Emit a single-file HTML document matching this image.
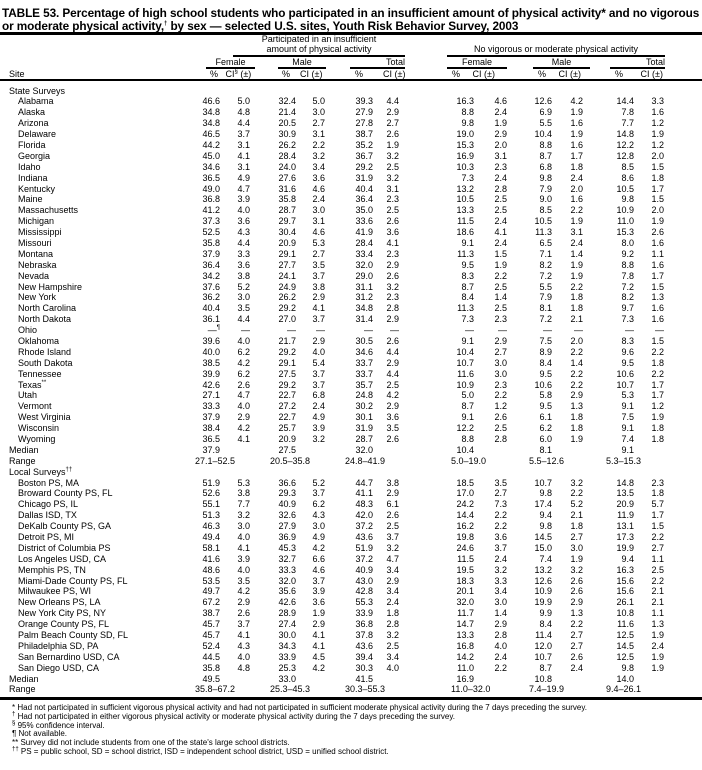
<!DOCTYPE html>
<html><head><meta charset="utf-8"><style>
body{margin:0;background:#fff;width:702px;height:770px;position:relative;overflow:hidden;font-family:"Liberation Sans",Arial,sans-serif;color:#000}
.t{position:absolute;left:2px;font-weight:bold;font-size:11.8px;white-space:nowrap;letter-spacing:-0.1px}
.ln{position:absolute;background:#000}
.hd{position:absolute;font-size:9px;white-space:nowrap;line-height:10px}
#rows{position:absolute;top:85.5px;left:0;width:702px}
.r{position:relative;height:10.9px;line-height:10.9px;font-size:9px;white-space:nowrap}
.r span{position:absolute;top:0}
.r span:nth-child(1){left:18px}
.r.h span:nth-child(1){left:9px}
.r span:nth-child(2){right:482px}.r span:nth-child(3){right:452px}
.r span:nth-child(4){right:406px}.r span:nth-child(5){right:377px}
.r span:nth-child(6){right:329px}.r span:nth-child(7){right:303px}
.r span:nth-child(8){right:228px}.r span:nth-child(9){right:195px}
.r span:nth-child(10){right:150px}.r span:nth-child(11){right:119px}
.r span:nth-child(12){right:68px}.r span:nth-child(13){right:38px}
.g span:nth-child(2){left:195px;right:auto}.g span:nth-child(3){left:270px;right:auto}
.g span:nth-child(4){left:345px;right:auto}.g span:nth-child(5){left:451px;right:auto}
.g span:nth-child(6){left:529px;right:auto}.g span:nth-child(7){left:606px;right:auto}
sup{font-size:6px;line-height:0}
.fn{position:absolute;left:12px;font-size:8px;line-height:8.8px;top:704px;white-space:nowrap}
</style></head><body>
<div class="t" style="top:6px">TABLE 53. Percentage of high school students who participated in an insufficient amount of physical activity* and no vigorous</div>
<div class="t" style="top:19px">or moderate physical activity,<sup>†</sup> by sex — selected U.S. sites, Youth Risk Behavior Survey, 2003</div>
<div class="ln" style="left:0;top:32px;width:702px;height:3px"></div>
<div class="hd" style="left:233px;width:172px;text-align:center;top:34px">Participated in an insufficient<br>amount of physical activity</div>
<div class="ln" style="left:233px;top:55px;width:172px;height:2px"></div>
<div class="hd" style="left:447px;width:218px;text-align:center;top:44px">No vigorous or moderate physical activity</div>
<div class="ln" style="left:447px;top:55px;width:218px;height:2px"></div>
<div class="hd" style="left:206px;width:49px;text-align:center;top:57px">Female</div>
<div class="hd" style="left:278px;width:48px;text-align:center;top:57px">Male</div>
<div class="hd" style="left:350px;width:55px;text-align:right;top:57px">Total</div>
<div class="hd" style="left:447px;width:60px;text-align:center;top:57px">Female</div>
<div class="hd" style="left:533px;width:57px;text-align:center;top:57px">Male</div>
<div class="hd" style="left:610px;width:55px;text-align:right;top:57px">Total</div>
<div class="ln" style="left:206px;top:67px;width:49px;height:2px"></div>
<div class="ln" style="left:278px;top:67px;width:48px;height:2px"></div>
<div class="ln" style="left:350px;top:67px;width:55px;height:2px"></div>
<div class="ln" style="left:447px;top:67px;width:60px;height:2px"></div>
<div class="ln" style="left:533px;top:67px;width:57px;height:2px"></div>
<div class="ln" style="left:610px;top:67px;width:55px;height:2px"></div>
<div class="hd" style="left:9px;top:69px">Site</div>
<div class="hd" style="left:210px;top:69px">%&nbsp;&nbsp; CI<sup>§</sup> (±)</div>
<div class="hd" style="left:282px;top:69px">%&nbsp;&nbsp;&nbsp; CI (±)</div>
<div class="hd" style="left:355px;top:69px">%&nbsp;&nbsp;&nbsp;&nbsp;&nbsp;&nbsp;&nbsp; CI (±)</div>
<div class="hd" style="left:452px;top:69px">%&nbsp;&nbsp;&nbsp;&nbsp; CI (±)</div>
<div class="hd" style="left:538px;top:69px">%&nbsp;&nbsp;&nbsp;&nbsp; CI (±)</div>
<div class="hd" style="left:615px;top:69px">%&nbsp;&nbsp;&nbsp;&nbsp;&nbsp;&nbsp; CI (±)</div>
<div class="ln" style="left:0;top:79px;width:702px;height:2px"></div>
<div id="rows">
<div class="r h"><span>State Surveys</span></div>
<div class="r"><span>Alabama</span><span>46.6</span><span>5.0</span><span>32.4</span><span>5.0</span><span>39.3</span><span>4.4</span><span>16.3</span><span>4.6</span><span>12.6</span><span>4.2</span><span>14.4</span><span>3.3</span></div>
<div class="r"><span>Alaska</span><span>34.8</span><span>4.8</span><span>21.4</span><span>3.0</span><span>27.9</span><span>2.9</span><span>8.8</span><span>2.4</span><span>6.9</span><span>1.9</span><span>7.8</span><span>1.6</span></div>
<div class="r"><span>Arizona</span><span>34.8</span><span>4.4</span><span>20.5</span><span>2.7</span><span>27.8</span><span>2.7</span><span>9.8</span><span>1.9</span><span>5.5</span><span>1.6</span><span>7.7</span><span>1.2</span></div>
<div class="r"><span>Delaware</span><span>46.5</span><span>3.7</span><span>30.9</span><span>3.1</span><span>38.7</span><span>2.6</span><span>19.0</span><span>2.9</span><span>10.4</span><span>1.9</span><span>14.8</span><span>1.9</span></div>
<div class="r"><span>Florida</span><span>44.2</span><span>3.1</span><span>26.2</span><span>2.2</span><span>35.2</span><span>1.9</span><span>15.3</span><span>2.0</span><span>8.8</span><span>1.6</span><span>12.2</span><span>1.2</span></div>
<div class="r"><span>Georgia</span><span>45.0</span><span>4.1</span><span>28.4</span><span>3.2</span><span>36.7</span><span>3.2</span><span>16.9</span><span>3.1</span><span>8.7</span><span>1.7</span><span>12.8</span><span>2.0</span></div>
<div class="r"><span>Idaho</span><span>34.6</span><span>3.1</span><span>24.0</span><span>3.4</span><span>29.2</span><span>2.5</span><span>10.3</span><span>2.3</span><span>6.8</span><span>1.8</span><span>8.5</span><span>1.5</span></div>
<div class="r"><span>Indiana</span><span>36.5</span><span>4.9</span><span>27.6</span><span>3.6</span><span>31.9</span><span>3.2</span><span>7.3</span><span>2.4</span><span>9.8</span><span>2.4</span><span>8.6</span><span>1.8</span></div>
<div class="r"><span>Kentucky</span><span>49.0</span><span>4.7</span><span>31.6</span><span>4.6</span><span>40.4</span><span>3.1</span><span>13.2</span><span>2.8</span><span>7.9</span><span>2.0</span><span>10.5</span><span>1.7</span></div>
<div class="r"><span>Maine</span><span>36.8</span><span>3.9</span><span>35.8</span><span>2.4</span><span>36.4</span><span>2.3</span><span>10.5</span><span>2.5</span><span>9.0</span><span>1.6</span><span>9.8</span><span>1.5</span></div>
<div class="r"><span>Massachusetts</span><span>41.2</span><span>4.0</span><span>28.7</span><span>3.0</span><span>35.0</span><span>2.5</span><span>13.3</span><span>2.5</span><span>8.5</span><span>2.2</span><span>10.9</span><span>2.0</span></div>
<div class="r"><span>Michigan</span><span>37.3</span><span>3.6</span><span>29.7</span><span>3.1</span><span>33.6</span><span>2.6</span><span>11.5</span><span>2.4</span><span>10.5</span><span>1.9</span><span>11.0</span><span>1.9</span></div>
<div class="r"><span>Mississippi</span><span>52.5</span><span>4.3</span><span>30.4</span><span>4.6</span><span>41.9</span><span>3.6</span><span>18.6</span><span>4.1</span><span>11.3</span><span>3.1</span><span>15.3</span><span>2.6</span></div>
<div class="r"><span>Missouri</span><span>35.8</span><span>4.4</span><span>20.9</span><span>5.3</span><span>28.4</span><span>4.1</span><span>9.1</span><span>2.4</span><span>6.5</span><span>2.4</span><span>8.0</span><span>1.6</span></div>
<div class="r"><span>Montana</span><span>37.9</span><span>3.3</span><span>29.1</span><span>2.7</span><span>33.4</span><span>2.3</span><span>11.3</span><span>1.5</span><span>7.1</span><span>1.4</span><span>9.2</span><span>1.1</span></div>
<div class="r"><span>Nebraska</span><span>36.4</span><span>3.6</span><span>27.7</span><span>3.5</span><span>32.0</span><span>2.9</span><span>9.5</span><span>1.9</span><span>8.2</span><span>1.9</span><span>8.8</span><span>1.6</span></div>
<div class="r"><span>Nevada</span><span>34.2</span><span>3.8</span><span>24.1</span><span>3.7</span><span>29.0</span><span>2.6</span><span>8.3</span><span>2.2</span><span>7.2</span><span>1.9</span><span>7.8</span><span>1.7</span></div>
<div class="r"><span>New Hampshire</span><span>37.6</span><span>5.2</span><span>24.9</span><span>3.8</span><span>31.1</span><span>3.2</span><span>8.7</span><span>2.5</span><span>5.5</span><span>2.2</span><span>7.2</span><span>1.5</span></div>
<div class="r"><span>New York</span><span>36.2</span><span>3.0</span><span>26.2</span><span>2.9</span><span>31.2</span><span>2.3</span><span>8.4</span><span>1.4</span><span>7.9</span><span>1.8</span><span>8.2</span><span>1.3</span></div>
<div class="r"><span>North Carolina</span><span>40.4</span><span>3.5</span><span>29.2</span><span>4.1</span><span>34.8</span><span>2.8</span><span>11.3</span><span>2.5</span><span>8.1</span><span>1.8</span><span>9.7</span><span>1.6</span></div>
<div class="r"><span>North Dakota</span><span>36.1</span><span>4.4</span><span>27.0</span><span>3.7</span><span>31.4</span><span>2.9</span><span>7.3</span><span>2.3</span><span>7.2</span><span>2.1</span><span>7.3</span><span>1.6</span></div>
<div class="r"><span>Ohio</span><span>—<sup>¶</sup></span><span>—</span><span>—</span><span>—</span><span>—</span><span>—</span><span>—</span><span>—</span><span>—</span><span>—</span><span>—</span><span>—</span></div>
<div class="r"><span>Oklahoma</span><span>39.6</span><span>4.0</span><span>21.7</span><span>2.9</span><span>30.5</span><span>2.6</span><span>9.1</span><span>2.9</span><span>7.5</span><span>2.0</span><span>8.3</span><span>1.5</span></div>
<div class="r"><span>Rhode Island</span><span>40.0</span><span>6.2</span><span>29.2</span><span>4.0</span><span>34.6</span><span>4.4</span><span>10.4</span><span>2.7</span><span>8.9</span><span>2.2</span><span>9.6</span><span>2.2</span></div>
<div class="r"><span>South Dakota</span><span>38.5</span><span>4.2</span><span>29.1</span><span>5.4</span><span>33.7</span><span>2.9</span><span>10.7</span><span>3.0</span><span>8.4</span><span>1.4</span><span>9.5</span><span>1.8</span></div>
<div class="r"><span>Tennessee</span><span>39.9</span><span>6.2</span><span>27.5</span><span>3.7</span><span>33.7</span><span>4.4</span><span>11.6</span><span>3.0</span><span>9.5</span><span>2.2</span><span>10.6</span><span>2.2</span></div>
<div class="r"><span>Texas<sup>**</sup></span><span>42.6</span><span>2.6</span><span>29.2</span><span>3.7</span><span>35.7</span><span>2.5</span><span>10.9</span><span>2.3</span><span>10.6</span><span>2.2</span><span>10.7</span><span>1.7</span></div>
<div class="r"><span>Utah</span><span>27.1</span><span>4.7</span><span>22.7</span><span>6.8</span><span>24.8</span><span>4.2</span><span>5.0</span><span>2.2</span><span>5.8</span><span>2.9</span><span>5.3</span><span>1.7</span></div>
<div class="r"><span>Vermont</span><span>33.3</span><span>4.0</span><span>27.2</span><span>2.4</span><span>30.2</span><span>2.9</span><span>8.7</span><span>1.2</span><span>9.5</span><span>1.3</span><span>9.1</span><span>1.2</span></div>
<div class="r"><span>West Virginia</span><span>37.9</span><span>2.9</span><span>22.7</span><span>4.9</span><span>30.1</span><span>3.6</span><span>9.1</span><span>2.6</span><span>6.1</span><span>1.8</span><span>7.5</span><span>1.9</span></div>
<div class="r"><span>Wisconsin</span><span>38.4</span><span>4.2</span><span>25.7</span><span>3.9</span><span>31.9</span><span>3.5</span><span>12.2</span><span>2.5</span><span>6.2</span><span>1.8</span><span>9.1</span><span>1.8</span></div>
<div class="r"><span>Wyoming</span><span>36.5</span><span>4.1</span><span>20.9</span><span>3.2</span><span>28.7</span><span>2.6</span><span>8.8</span><span>2.8</span><span>6.0</span><span>1.9</span><span>7.4</span><span>1.8</span></div>
<div class="r h"><span>Median</span><span>37.9</span><span></span><span>27.5</span><span></span><span>32.0</span><span></span><span>10.4</span><span></span><span>8.1</span><span></span><span>9.1</span><span></span></div>
<div class="r h g"><span>Range</span><span>27.1–52.5</span><span>20.5–35.8</span><span>24.8–41.9</span><span>5.0–19.0</span><span>5.5–12.6</span><span>5.3–15.3</span></div>
<div class="r h"><span>Local Surveys<sup>††</sup></span></div>
<div class="r"><span>Boston PS, MA</span><span>51.9</span><span>5.3</span><span>36.6</span><span>5.2</span><span>44.7</span><span>3.8</span><span>18.5</span><span>3.5</span><span>10.7</span><span>3.2</span><span>14.8</span><span>2.3</span></div>
<div class="r"><span>Broward County PS, FL</span><span>52.6</span><span>3.8</span><span>29.3</span><span>3.7</span><span>41.1</span><span>2.9</span><span>17.0</span><span>2.7</span><span>9.8</span><span>2.2</span><span>13.5</span><span>1.8</span></div>
<div class="r"><span>Chicago PS, IL</span><span>55.1</span><span>7.7</span><span>40.9</span><span>6.2</span><span>48.3</span><span>6.1</span><span>24.2</span><span>7.3</span><span>17.4</span><span>5.2</span><span>20.9</span><span>5.7</span></div>
<div class="r"><span>Dallas ISD, TX</span><span>51.3</span><span>3.2</span><span>32.6</span><span>4.3</span><span>42.0</span><span>2.6</span><span>14.4</span><span>2.2</span><span>9.4</span><span>2.1</span><span>11.9</span><span>1.7</span></div>
<div class="r"><span>DeKalb County PS, GA</span><span>46.3</span><span>3.0</span><span>27.9</span><span>3.0</span><span>37.2</span><span>2.5</span><span>16.2</span><span>2.2</span><span>9.8</span><span>1.8</span><span>13.1</span><span>1.5</span></div>
<div class="r"><span>Detroit PS, MI</span><span>49.4</span><span>4.0</span><span>36.9</span><span>4.9</span><span>43.6</span><span>3.7</span><span>19.8</span><span>3.6</span><span>14.5</span><span>2.7</span><span>17.3</span><span>2.2</span></div>
<div class="r"><span>District of Columbia PS</span><span>58.1</span><span>4.1</span><span>45.3</span><span>4.2</span><span>51.9</span><span>3.2</span><span>24.6</span><span>3.7</span><span>15.0</span><span>3.0</span><span>19.9</span><span>2.7</span></div>
<div class="r"><span>Los Angeles USD, CA</span><span>41.6</span><span>3.9</span><span>32.7</span><span>6.6</span><span>37.2</span><span>4.7</span><span>11.5</span><span>2.4</span><span>7.4</span><span>1.9</span><span>9.4</span><span>1.1</span></div>
<div class="r"><span>Memphis PS, TN</span><span>48.6</span><span>4.0</span><span>33.3</span><span>4.6</span><span>40.9</span><span>3.4</span><span>19.5</span><span>3.2</span><span>13.2</span><span>3.2</span><span>16.3</span><span>2.5</span></div>
<div class="r"><span>Miami-Dade County PS, FL</span><span>53.5</span><span>3.5</span><span>32.0</span><span>3.7</span><span>43.0</span><span>2.9</span><span>18.3</span><span>3.3</span><span>12.6</span><span>2.6</span><span>15.6</span><span>2.2</span></div>
<div class="r"><span>Milwaukee PS, WI</span><span>49.7</span><span>4.2</span><span>35.6</span><span>3.9</span><span>42.8</span><span>3.4</span><span>20.1</span><span>3.4</span><span>10.9</span><span>2.6</span><span>15.6</span><span>2.1</span></div>
<div class="r"><span>New Orleans PS, LA</span><span>67.2</span><span>2.9</span><span>42.6</span><span>3.6</span><span>55.3</span><span>2.4</span><span>32.0</span><span>3.0</span><span>19.9</span><span>2.9</span><span>26.1</span><span>2.1</span></div>
<div class="r"><span>New York City PS, NY</span><span>38.7</span><span>2.6</span><span>28.9</span><span>1.9</span><span>33.9</span><span>1.8</span><span>11.7</span><span>1.4</span><span>9.9</span><span>1.3</span><span>10.8</span><span>1.1</span></div>
<div class="r"><span>Orange County PS, FL</span><span>45.7</span><span>3.7</span><span>27.4</span><span>2.9</span><span>36.8</span><span>2.8</span><span>14.7</span><span>2.9</span><span>8.4</span><span>2.2</span><span>11.6</span><span>1.3</span></div>
<div class="r"><span>Palm Beach County SD, FL</span><span>45.7</span><span>4.1</span><span>30.0</span><span>4.1</span><span>37.8</span><span>3.2</span><span>13.3</span><span>2.8</span><span>11.4</span><span>2.7</span><span>12.5</span><span>1.9</span></div>
<div class="r"><span>Philadelphia SD, PA</span><span>52.4</span><span>4.3</span><span>34.3</span><span>4.1</span><span>43.6</span><span>2.5</span><span>16.8</span><span>4.0</span><span>12.0</span><span>2.7</span><span>14.5</span><span>2.4</span></div>
<div class="r"><span>San Bernardino USD, CA</span><span>44.5</span><span>4.0</span><span>33.9</span><span>4.5</span><span>39.4</span><span>3.4</span><span>14.2</span><span>2.4</span><span>10.7</span><span>2.6</span><span>12.5</span><span>1.9</span></div>
<div class="r"><span>San Diego USD, CA</span><span>35.8</span><span>4.8</span><span>25.3</span><span>4.2</span><span>30.3</span><span>4.0</span><span>11.0</span><span>2.2</span><span>8.7</span><span>2.4</span><span>9.8</span><span>1.9</span></div>
<div class="r h"><span>Median</span><span>49.5</span><span></span><span>33.0</span><span></span><span>41.5</span><span></span><span>16.9</span><span></span><span>10.8</span><span></span><span>14.0</span><span></span></div>
<div class="r h g"><span>Range</span><span>35.8–67.2</span><span>25.3–45.3</span><span>30.3–55.3</span><span>11.0–32.0</span><span>7.4–19.9</span><span>9.4–26.1</span></div>
</div>
<div class="ln" style="left:0;top:697px;width:702px;height:3px"></div>
<div class="fn">* Had not participated in sufficient vigorous physical activity and had not participated in sufficient moderate physical activity during the 7 days preceding the survey.<br>
<sup>†</sup> Had not participated in either vigorous physical activity or moderate physical activity during the 7 days preceding the survey.<br>
<sup>§</sup> 95% confidence interval.<br>
¶ Not available.<br>
** Survey did not include students from one of the state's large school districts.<br>
<sup>††</sup> PS = public school, SD = school district, ISD = independent school district, USD = unified school district.</div>
</body></html>
